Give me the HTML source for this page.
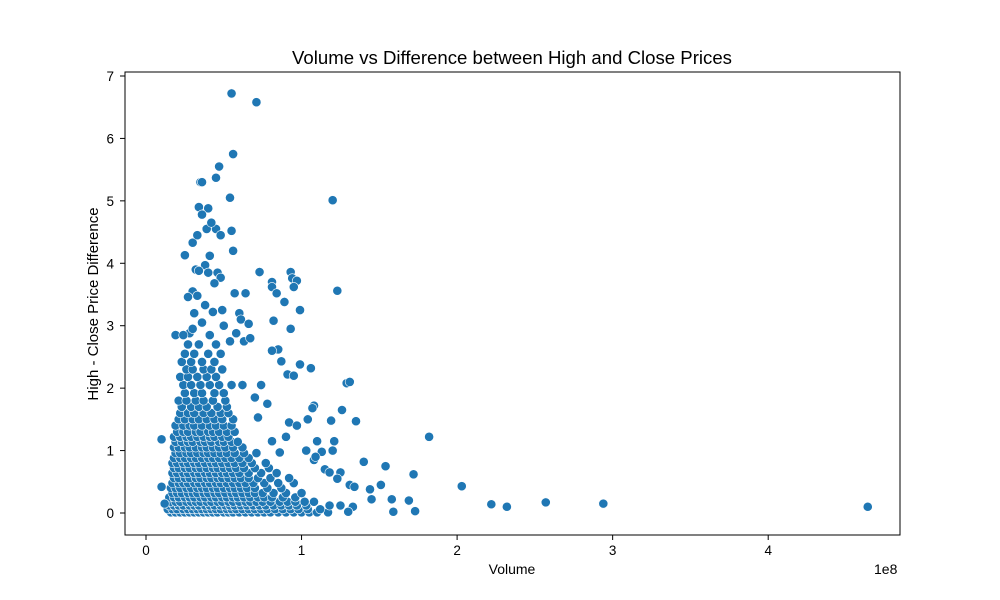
<!DOCTYPE html>
<html><head><meta charset="utf-8"><style>
html,body{margin:0;padding:0;background:#fff;}
svg{display:block;font-family:"Liberation Sans","DejaVu Sans",sans-serif;}
</style></head><body>
<svg id="chart" width="1000" height="600">
<rect x="0" y="0" width="1000" height="600" fill="#fff"/>
<text x="512" y="64" text-anchor="middle" font-size="18.6" fill="#000">Volume vs Difference between High and Close Prices</text>
<g id="points"></g>
<rect x="125" y="72" width="775" height="463" fill="none" stroke="#000" stroke-width="1"/>
<g id="xticks"></g>
<g id="yticks"></g>
<text x="512" y="574" text-anchor="middle" font-size="14">Volume</text>
<text x="874" y="574" font-size="14">1e8</text>
<text transform="translate(98,304) rotate(-90)" text-anchor="middle" font-size="15">High - Close Price Difference</text>
</svg>
<script>
// volumes in millions, diffs in price units
const xTicks = [0, 1, 2, 3, 4];
const yTicks = [0, 1, 2, 3, 4, 5, 6, 7];
const clusterDiffs = [0.01,0.06,0.12,0.18,0.25,0.32,0.4,0.48,0.56,0.64,0.72,0.8,0.88,0.96,1.05,1.14,1.22,1.3,1.4,1.5,1.6,1.7,1.8,1.92,2.05,2.18,2.3,2.42,2.55,2.7];
const clusterVolumes = [
 [16,19,22,25,28,31,34,37,40,43,46,50,53,56,60,64,68,72,76,80,85,90,95,100,105,110,117],
 [14,17,20,24,27,30,33,36,39,42,45,48,52,55,58,62,66,70,74,78,83,88,93,98,104,112],
 [15,18,21,24,28,31,34,38,41,44,48,51,54,57,61,65,69,73,77,82,87,92,97,103,118,125],
 [16,19,22,26,29,32,35,39,42,46,49,53,56,60,64,67,71,75,80,86,91,96,102,108],
 [15,18,21,25,28,31,35,38,42,45,49,52,56,59,63,67,72,76,81,88,96],
 [17,20,23,27,30,33,37,40,44,47,51,55,58,62,66,70,75,82,90,100],
 [16,19,22,26,29,33,36,39,43,46,50,54,57,61,65,70,78,87],
 [17,21,24,27,31,34,38,41,45,48,52,56,60,64,69,76,85,95],
 [18,21,25,28,32,35,39,42,46,49,53,57,61,66,72,80,92],
 [17,20,24,27,31,34,38,41,45,49,52,56,60,66,74,84],
 [18,21,25,28,32,35,39,43,46,50,54,58,63,70,79],
 [17,20,24,27,31,34,38,42,45,49,53,57,62,68,77],
 [18,22,25,29,32,36,40,43,47,51,55,60,66],
 [19,22,26,29,33,37,40,44,48,52,57,63,71],
 [18,21,25,28,32,36,39,43,47,51,56,62],
 [19,23,27,30,35,38,42,47,50,55,59],
 [18,22,26,29,33,37,41,44,49,53],
 [20,24,27,32,35,40,43,47,52,57],
 [19,24,28,31,36,41,45,50,55],
 [21,25,30,34,39,44,49,56],
 [22,27,31,37,42,48,53],
 [23,29,34,39,46,52],
 [21,26,32,37,43,51],
 [25,31,36,44,50],
 [24,29,35,41,47,55],
 [22,27,33,39,45],
 [26,30,37,42,49],
 [23,29,36,44],
 [25,31,40,48],
 [27,34,45]
];
const outlierVolumes = [55,71,56,47,35,36,45,54,120,34,40,55,39,45,48,30,42,36,33,56,41,25,38,32,34,40,46,48,44,73,93,94,97,95,81,81,84,57,64,123,89,99,30,33,27,38,43,49,60,61,31,82,93,66,50,36,28,19,24,30,41,58,63,67,54,85,81,87,99,106,91,95,129,131,74,62,70,78,108,107,126,135,119,104,92,97,72,90,110,121,182,81,103,113,120,86,140,154,172,108,109,115,118,125,123,131,134,144,151,145,158,169,203,222,232,257,294,464,159,173,133,130,10,10,12];
const outlierDiffs = [6.72,6.58,5.75,5.55,5.3,5.3,5.37,5.05,5.01,4.9,4.88,4.52,4.55,4.55,4.45,4.33,4.65,4.78,4.45,4.2,4.12,4.13,3.97,3.9,3.88,3.85,3.85,3.77,3.68,3.86,3.86,3.76,3.72,3.62,3.7,3.62,3.52,3.52,3.52,3.56,3.38,3.25,3.55,3.48,3.46,3.33,3.22,3.25,3.2,3.1,3.2,3.08,2.95,3.03,3.0,3.05,2.88,2.85,2.85,2.95,2.85,2.88,2.75,2.8,2.75,2.62,2.6,2.43,2.38,2.32,2.22,2.2,2.08,2.1,2.05,2.05,1.85,1.75,1.72,1.68,1.65,1.47,1.48,1.5,1.45,1.4,1.53,1.22,1.15,1.15,1.22,1.15,1.0,0.98,1.0,0.97,0.82,0.75,0.62,0.85,0.9,0.7,0.65,0.65,0.55,0.45,0.42,0.38,0.45,0.22,0.22,0.2,0.43,0.14,0.1,0.17,0.15,0.1,0.02,0.03,0.1,0.02,1.18,0.42,0.15];

const NS = "http://www.w3.org/2000/svg";
function xScale(v){ return 146 + v * 1.5555; }      // v in millions
function yScale(d){ return 513 - d * 62.43; }

const pts = document.getElementById('points');
function addPoint(v, d){
  const c = document.createElementNS(NS, 'circle');
  c.setAttribute('cx', xScale(v));
  c.setAttribute('cy', yScale(d));
  c.setAttribute('r', 4.6);
  c.setAttribute('fill', '#1f77b4');
  c.setAttribute('stroke', '#ffffff');
  c.setAttribute('stroke-width', '0.6');
  
  
  pts.appendChild(c);
}
clusterDiffs.forEach((d, i) => clusterVolumes[i].forEach(v => addPoint(v, d)));
outlierVolumes.forEach((v, i) => addPoint(v, outlierDiffs[i]));

const xt = document.getElementById('xticks');
xTicks.forEach(t => {
  const x = xScale(t * 100);
  const l = document.createElementNS(NS, 'line');
  l.setAttribute('x1', x); l.setAttribute('x2', x);
  l.setAttribute('y1', 535); l.setAttribute('y2', 540);
  l.setAttribute('stroke', '#000');
  
  
  xt.appendChild(l);
  const tx = document.createElementNS(NS, 'text');
  tx.setAttribute('x', x); tx.setAttribute('y', 555);
  tx.setAttribute('text-anchor', 'middle');
  tx.setAttribute('font-size', '13.5');
  tx.textContent = t;
  
  
  xt.appendChild(tx);
});
const yt = document.getElementById('yticks');
yTicks.forEach(t => {
  const y = yScale(t);
  const l = document.createElementNS(NS, 'line');
  l.setAttribute('x1', 120); l.setAttribute('x2', 125);
  l.setAttribute('y1', y); l.setAttribute('y2', y);
  l.setAttribute('stroke', '#000');
  
  
  yt.appendChild(l);
  const tx = document.createElementNS(NS, 'text');
  tx.setAttribute('x', 114); tx.setAttribute('y', y + 5);
  tx.setAttribute('text-anchor', 'end');
  tx.setAttribute('font-size', '13.5');
  tx.textContent = t;
  
  
  yt.appendChild(tx);
});
</script>
</body></html>
